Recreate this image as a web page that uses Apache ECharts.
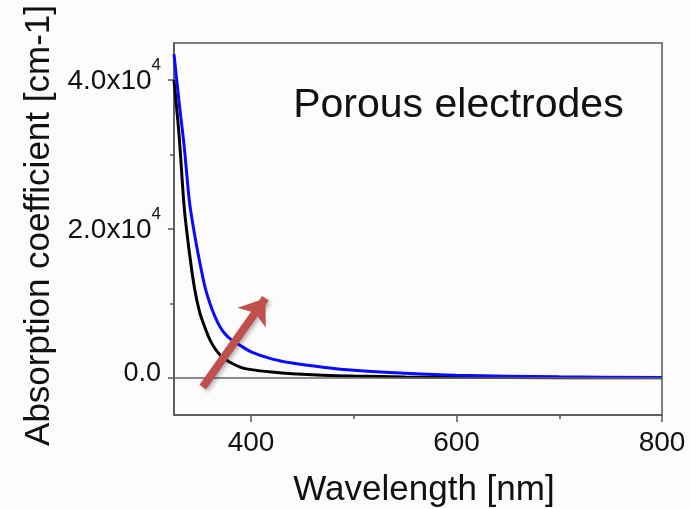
<!DOCTYPE html>
<html>
<head>
<meta charset="utf-8">
<script src="https://cdn.jsdelivr.net/npm/echarts@6/dist/echarts.min.js"></script>
<style>
html,body{margin:0;padding:0;background:#fcfcfc;}
#c{width:690px;height:509px;}
</style>
</head>
<body>
<div id="c"></div>
<script>
// Data
const wavelengths = [325, 330, 335, 340, 345, 350, 355, 360, 365, 370, 375, 380, 390, 400, 420, 440, 470, 500, 550, 600, 700, 800];
const blackSeries = [40000, 32500, 22800, 16800, 12000, 8800, 6800, 5100, 3900, 3050, 2500, 2050, 1400, 1100, 780, 560, 350, 230, 120, 60, 20, 0];
const blueSeries  = [43500, 37000, 31000, 23700, 19300, 15600, 12300, 10000, 8200, 6800, 5850, 5200, 4300, 3500, 2550, 1980, 1420, 1000, 600, 330, 130, 30];
const xMajorTicks = [400, 600, 800];
const xMinorTicks = [500, 700];
const yMajorTicks = [0, 20000, 40000];
const yMinorTicks = [10000, 30000];
const arrowFrom = [353, -1250];
const arrowTo = [414, 10700];
const annotationAt = [441, 36600];
const annotationText = 'Porous electrodes';
const xTitle = 'Wavelength [nm]';
const yTitle = 'Absorption coefficient [cm-1]';

const pairs = (xs, ys) => xs.map((x, i) => [x, ys[i]]);
const FONT = 'Liberation Sans, Arial, sans-serif';
const AX = '#555';

const chart = echarts.init(document.getElementById('c'));
const grid = {left: 174, top: 43, right: 28, bottom: 94, containLabel: false, outerBoundsMode: 'none',
  show: true, borderColor: AX, borderWidth: 1.5, backgroundColor: 'transparent'};
const xCommon = {type: 'value', min: 325, max: 800, gridIndex: 0, splitLine: {show: false}};
const yCommon = {type: 'value', min: -5000, max: 45000, gridIndex: 0, splitLine: {show: false}};

chart.setOption({
  backgroundColor: '#fcfcfc',
  animation: false,
  grid: grid,
  xAxis: [
    Object.assign({}, xCommon, {
      position: 'bottom',
      axisLine: {show: true, onZero: false, lineStyle: {color: AX, width: 1.5}},
      axisTick: {show: true, length: 7, customValues: xMajorTicks, lineStyle: {color: AX, width: 1.5}},
      axisLabel: {show: true, customValues: xMajorTicks, margin: 14, fontSize: 28, color: '#111', fontFamily: FONT},
      name: xTitle, nameLocation: 'middle', nameGap: 58,
      nameTextStyle: {fontSize: 35, color: '#111', fontFamily: FONT, padding: [0, 0, 0, 12]}
    }),
    Object.assign({}, xCommon, {
      position: 'bottom',
      axisLine: {show: false, onZero: false},
      axisTick: {show: true, length: 4, customValues: xMinorTicks, lineStyle: {color: AX, width: 1.5}},
      axisLabel: {show: false}
    })
  ],
  yAxis: [
    Object.assign({}, yCommon, {
      position: 'left',
      axisLine: {show: true, onZero: false, lineStyle: {color: AX, width: 1.5}},
      axisTick: {show: true, length: 6, customValues: yMajorTicks, lineStyle: {color: AX, width: 1.5}},
      axisLabel: {
        show: true, customValues: yMajorTicks, margin: 13, color: '#111', fontFamily: FONT,
        padding: [0, 0, 8, 0],
        formatter: function (v) {
          if (v === 0) return '{z|0.0}';
          return '{a|' + (v / 10000).toFixed(1) + 'x10}{s|4}';
        },
        rich: {
          z: {fontSize: 27, fontFamily: FONT, color: '#111'},
          a: {fontSize: 28, lineHeight: 38, verticalAlign: 'bottom', fontFamily: FONT, color: '#111'},
          s: {fontSize: 17, lineHeight: 17, verticalAlign: 'top', fontFamily: FONT, color: '#111'}
        }
      }
    }),
    Object.assign({}, yCommon, {
      position: 'left',
      axisLine: {show: false, onZero: false},
      axisTick: {show: true, length: 4, customValues: yMinorTicks, lineStyle: {color: AX, width: 1.5}},
      axisLabel: {show: false}
    })
  ],
  series: [
    {
      type: 'line', name: 'black', xAxisIndex: 0, yAxisIndex: 0,
      data: pairs(wavelengths, blackSeries),
      showSymbol: false, smooth: 0.3,
      lineStyle: {color: '#000', width: 3}, z: 2,
      markLine: {
        silent: true, symbol: 'none', animation: false,
        lineStyle: {color: '#666', width: 1.5, type: 'solid'},
        label: {show: false},
        data: [{yAxis: 0}]
      }
    },
    {
      type: 'line', name: 'blue', xAxisIndex: 0, yAxisIndex: 0,
      data: pairs(wavelengths, blueSeries),
      showSymbol: false, smooth: 0.3,
      lineStyle: {color: '#0a0aff', width: 3}, z: 3,
      markLine: {
        silent: true, animation: false, z: 10,
        symbol: ['none', 'arrow'], symbolSize: [26, 24],
        lineStyle: {color: '#c0504d', width: 8, type: 'solid', cap: 'butt', shadowColor: 'rgba(0,0,0,0.3)', shadowBlur: 4, shadowOffsetX: 2, shadowOffsetY: 2},
        itemStyle: {color: '#c0504d'},
        label: {show: false},
        data: [[{coord: arrowFrom}, {coord: arrowTo}]]
      }
    }
  ],
});

const p = chart.convertToPixel({gridIndex: 0}, annotationAt);
chart.setOption({graphic: [
  {
    type: 'text', left: 22, top: 5, rotation: Math.PI / 2,
    style: {text: yTitle, fontSize: 35, fontFamily: FONT, fill: '#111'}
  },
  {
    type: 'text', x: p[0], y: p[1],
    style: {text: annotationText, fontSize: 41, fontFamily: FONT, fill: '#111', textVerticalAlign: 'middle'}
  }
]});
</script>
</body>
</html>
